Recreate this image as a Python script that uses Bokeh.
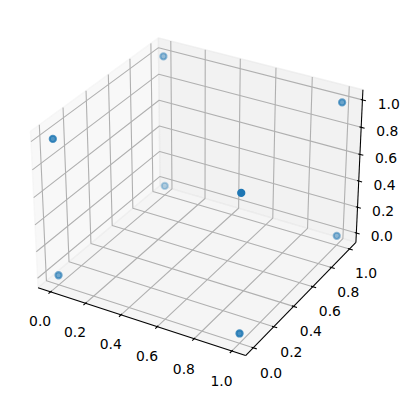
import numpy as np
from bokeh.plotting import figure
from bokeh.models import Range1d
from bokeh.embed import file_html
from bokeh.resources import INLINE
from bokeh.core.properties import value

# ---------------- data ----------------
xs = [0, 0, 0, 0, 1, 1, 1, 1]
ys = [0, 0, 1, 1, 0, 0, 1, 1]
zs = [0, 1, 0, 1, 0, 1, 0, 1]

x_ticks = [0.0, 0.2, 0.4, 0.6, 0.8, 1.0]
y_ticks = [0.0, 0.2, 0.4, 0.6, 0.8, 1.0]
z_ticks = [0.0, 0.2, 0.4, 0.6, 0.8, 1.0]
x_tick_labels = ["0.0", "0.2", "0.4", "0.6", "0.8", "1.0"]
y_tick_labels = ["0.0", "0.2", "0.4", "0.6", "0.8", "1.0"]
z_tick_labels = ["0.0", "0.2", "0.4", "0.6", "0.8", "1.0"]

x_lim = (-0.05, 1.05)
y_lim = (-0.05, 1.05)
z_lim = (-0.05, 1.05)

# ---------------- view / style ----------------
ELEV, AZIM = 30.0, -60.0
DIST, FOCAL = 10.0, 1.0
BOX = np.array([4.0, 4.0, 3.0])
BOX = BOX * 1.8294640721620434 / np.linalg.norm(BOX)

W_PX, H_PX = 409, 398
AX_PX = 369.6                      # square axes side in px
PX_PER_UNIT = AX_PX / 0.185        # 2D view range (-0.095, 0.09)
CX, CY = 199.4, 188.6              # pixel of projected view centre
PT = 100.0 / 72.0                  # px per point
LABEL_DY = 2.0                     # text top vs font ascent correction (px)

DOT_COLOR = "#1f77b4"
PANE_GRAY = [0.95, 0.90, 0.925]
GRID_COLOR = "#b0b0b0"

LIMS = np.array([x_lim, y_lim, z_lim], dtype=float)
TICKS = [x_ticks, y_ticks, z_ticks]
TICK_LABELS = [x_tick_labels, y_tick_labels, z_tick_labels]


def project(X, Y, Z):
    P = np.array([np.atleast_1d(X), np.atleast_1d(Y), np.atleast_1d(Z)], dtype=float)
    lo = LIMS[:, 0][:, None]
    hi = LIMS[:, 1][:, None]
    Wc = (P - lo) / (hi - lo) * BOX[:, None]
    R = 0.5 * BOX
    e, a = np.deg2rad(ELEV), np.deg2rad(AZIM)
    ps = np.array([np.cos(e) * np.cos(a), np.cos(e) * np.sin(a), np.sin(e)])
    eye = R + DIST * ps
    w = (eye - R) / np.linalg.norm(eye - R)
    u = np.cross(np.array([0.0, 0.0, 1.0]), w)
    u = u / np.linalg.norm(u)
    v = np.cross(w, u)
    eye_f = R + DIST * ps * FOCAL
    D = Wc - eye_f[:, None]
    xv, yv, zv = u @ D, v @ D, w @ D
    zf, zb = -DIST, DIST
    b = (zf + zb) / (zf - zb)
    c = -2 * (zf * zb) / (zf - zb)
    wh = -zv
    return FOCAL * xv / wh, FOCAL * yv / wh, (b * zv + c) / wh


def proj_pts(pts):
    pts = np.asarray(pts, dtype=float)
    tx, ty, tz = project(pts[:, 0], pts[:, 1], pts[:, 2])
    return list(tx), list(ty)


# coordinate info (mpl style)
mins = LIMS[:, 0].copy()
maxs = LIMS[:, 1].copy()
centers = 0.5 * (mins + maxs)
deltas = (maxs - mins) / 12
pmins = mins - 0.25 * deltas
pmaxs = maxs + 0.25 * deltas

highs = np.zeros(3, dtype=bool)
for i in range(3):
    pa = centers.copy(); pa[i] = pmins[i]
    pb = centers.copy(); pb[i] = pmaxs[i]
    za = project(*pa)[2][0]
    zb_ = project(*pb)[2][0]
    highs[i] = za < zb_
minmax = np.where(highs, pmaxs, pmins)
maxmin = np.where(highs, pmins, pmaxs)

# figure
x0 = -CX / PX_PER_UNIT
x1 = (W_PX - CX) / PX_PER_UNIT
y1 = CY / PX_PER_UNIT
y0 = (CY - H_PX) / PX_PER_UNIT
p = figure(width=W_PX, height=H_PX, x_range=Range1d(x0, x1), y_range=Range1d(y0, y1),
           x_axis_type=None, y_axis_type=None, toolbar_location=None,
           output_backend="svg", min_border=0, outline_line_color=None,
           background_fill_color="white", border_fill_color="white")
p.grid.visible = False

# panes
for i in range(3):
    j, k = [d for d in range(3) if d != i]
    corners = []
    for (aj, ak) in [(pmins[j], pmins[k]), (pmaxs[j], pmins[k]),
                     (pmaxs[j], pmaxs[k]), (pmins[j], pmaxs[k])]:
        q = [0.0, 0.0, 0.0]
        q[i] = minmax[i]; q[j] = aj; q[k] = ak
        corners.append(q)
    px_, py_ = proj_pts(corners)
    g = int(round(PANE_GRAY[i] * 255))
    col = "#%02x%02x%02x" % (g, g, g)
    p.patch(px_, py_, fill_color=col, fill_alpha=0.5, line_color=col,
            line_alpha=0.5, line_width=1.0 * PT)

# grid lines
for i in range(3):
    gx, gy = [], []
    for t in TICKS[i]:
        xyz0 = minmax.copy(); xyz0[i] = t
        p0 = xyz0.copy(); p0[i - 2] = maxmin[i - 2]
        p2 = xyz0.copy(); p2[i - 1] = maxmin[i - 1]
        lx, ly = proj_pts([p0, xyz0, p2])
        gx.append(lx); gy.append(ly)
    p.multi_line(gx, gy, line_color=GRID_COLOR, line_width=0.8 * PT)

# axis lines, ticks, labels
JUGGLED = [(1, 0, 2), (0, 1, 2), (0, 2, 1)]
TICKDIR = [1, 0, 0]
ax_points_estimate = 72.0 * (AX_PX / 100.0) * 2
deltas_per_point = 48.0 / ax_points_estimate
labeldeltas = (3.5 + 8.0) * deltas_per_point * deltas

for i in range(3):
    jug = JUGGLED[i]
    e1 = minmax.copy(); e1[jug[0]] = maxmin[jug[0]]
    e2 = e1.copy(); e2[jug[1]] = maxmin[jug[1]]
    lx, ly = proj_pts([e1, e2])
    p.line(lx, ly, line_color="black", line_width=0.75 * PT)

    td = TICKDIR[i]
    sign = 1 if highs[td] else -1
    tkx, tky, labx, laby = [], [], [], []
    for t in TICKS[i]:
        pos = e1.copy(); pos[i] = t
        pa = pos.copy(); pa[td] = e1[td] + 0.1 * sign * deltas[td]
        pb = pos.copy(); pb[td] = e1[td] - 0.2 * sign * deltas[td]
        qx, qy = proj_pts([pa, pb])
        tkx.append(qx); tky.append(qy)
        pl = pos.copy(); pl[td] = e1[td]
        for d in range(3):
            if d == i:
                continue
            if pl[d] < centers[d]:
                pl[d] -= labeldeltas[d]
            else:
                pl[d] += labeldeltas[d]
        lxx, lyy = proj_pts([pl])
        labx.append(lxx[0]); laby.append(lyy[0])
    p.multi_line(tkx, tky, line_color="black", line_width=0.8 * PT)
    p.text(x=labx, y=laby, text=TICK_LABELS[i], text_align="center",
           text_baseline="top", y_offset=LABEL_DY, text_font=value("DejaVu Sans"),
           text_font_size="13.9px", text_color="black")

# scatter points with depth shading
tx, ty, tz = project(xs, ys, zs)
tz = np.asarray(tz)
norm = (tz - tz.min()) / (tz.max() - tz.min())
alphas = list(1 - norm * 0.7)
p.scatter(x=list(tx), y=list(ty), size=np.sqrt(20) * PT, fill_color=DOT_COLOR,
          line_color=DOT_COLOR, fill_alpha=alphas, line_alpha=alphas,
          line_width=1.5 * PT)

open("out.html", "w").write(file_html(p, INLINE))
